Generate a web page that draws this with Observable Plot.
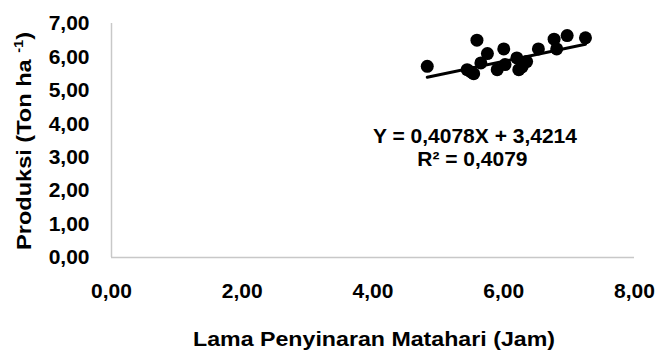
<!DOCTYPE html>
<html><head><meta charset="utf-8">
<script src="https://cdn.jsdelivr.net/npm/d3@7"></script>
<script src="https://cdn.jsdelivr.net/npm/@observablehq/plot@0.6"></script>
<style>
html,body{margin:0;padding:0;background:#fff;}
</style>
</head><body>
<div id="chart"></div>
<script>
// Sunshine duration (hours) and yield (ton/ha)
const sunHours = [4.83, 5.44, 5.50, 5.54, 5.59, 5.65, 5.75, 5.90, 6.00, 6.02, 6.20, 6.23, 6.28, 6.35, 6.53, 6.77, 6.81, 6.97, 7.25];
const yieldTon = [5.72, 5.62, 5.55, 5.50, 6.50, 5.82, 6.10, 5.62, 6.24, 5.77, 5.97, 5.62, 5.70, 5.86, 6.24, 6.53, 6.24, 6.64, 6.57];
const slope = 0.4078;
const intercept = 3.4214;
const equationText = ["Y = 0,4078X + 3,4214", "R² = 0,4079"];
const equationPos = [[5.56, 3.64], [5.52, 2.95]];
const xTicks = [0, 2, 4, 6, 8];
const yTicks = [0, 1, 2, 3, 4, 5, 6, 7];
const xTitle = "Lama Penyinaran Matahari (Jam)";
const yTitleParts = ["Produksi (Ton ha ", "-1", ")"];

const points = sunHours.map((x, i) => ({x, y: yieldTon[i]}));
const xMin = d3.min(sunHours), xMax = d3.max(sunHours);
const trend = [xMin, xMax].map(x => ({x, y: slope * x + intercept}));
const eq = equationText.map((t, i) => ({t, x: equationPos[i][0], y: equationPos[i][1]}));
const fmt = d => d.toFixed(2).replace(".", ",");

const W = 658, H = 351;
const plot = Plot.plot({
  width: W, height: H,
  marginLeft: 111, marginRight: 24, marginTop: 23, marginBottom: 94,
  style: {fontFamily: "'Liberation Sans', Arial, sans-serif", fontWeight: "bold", fontSize: "21px", color: "#000", background: "#fff"},
  x: {domain: [0, 8], ticks: xTicks, tickFormat: fmt, tickSize: 0, tickPadding: 26, label: null},
  y: {domain: [0, 7], ticks: yTicks, tickFormat: fmt, tickSize: 0, tickPadding: 22, label: null},
  marks: [
    Plot.ruleX([0], {stroke: "#c8c8c8", strokeWidth: 1.5}),
    Plot.ruleY([0], {stroke: "#c8c8c8", strokeWidth: 1.5}),
    Plot.dot(points, {x: "x", y: "y", r: 6.5, fill: "#000", stroke: "none"}),
    Plot.line(trend, {x: "x", y: "y", stroke: "#000", strokeWidth: 3}),
    Plot.text(eq, {x: "x", y: "y", text: "t", fontSize: 21, fontWeight: "bold", fill: "#000"})
  ]
});
const svg = d3.select(plot);
svg.append("text")
  .attr("x", 374).attr("y", 346)
  .attr("text-anchor", "middle")
  .attr("font-size", 21).attr("font-weight", "bold").attr("fill", "#000")
  .attr("textLength", 362).attr("lengthAdjust", "spacingAndGlyphs")
  .text(xTitle);
const yt = svg.append("text")
  .attr("transform", "translate(31,141) rotate(-90)")
  .attr("text-anchor", "middle")
  .attr("font-size", 21).attr("font-weight", "bold").attr("fill", "#000")
  .attr("textLength", 218).attr("lengthAdjust", "spacingAndGlyphs");
yt.append("tspan").text(yTitleParts[0]);
yt.append("tspan").attr("font-size", 13).attr("dy", -8).text(yTitleParts[1]);
yt.append("tspan").attr("dy", 8).text(yTitleParts[2]);
document.getElementById("chart").appendChild(plot);
</script>
</body></html>
